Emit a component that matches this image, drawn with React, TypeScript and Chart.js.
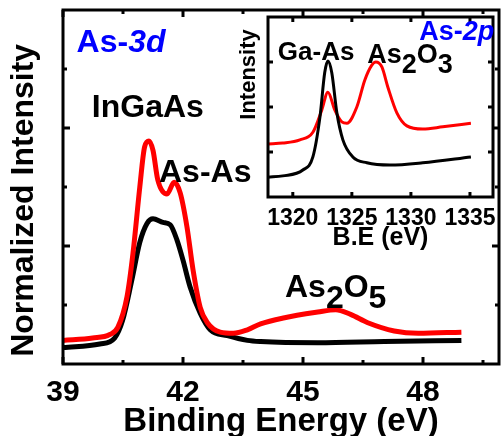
import { useEffect, useRef } from "react";
import { Chart, registerables } from "chart.js";
Chart.register(...registerables);

const FONT = '"Liberation Sans", Arial, sans-serif';

// ---- Main panel: As-3d ----
const mainRedEnergy = [39.0, 39.74, 40.17, 40.37, 40.6, 40.75, 40.92, 41.04, 41.15, 41.25, 41.37, 41.6, 41.78, 41.93, 42.1, 42.25, 42.43, 42.61, 42.93, 43.26, 43.61, 43.94, 44.51, 45.37, 45.82, 46.19, 46.62, 47.28, 47.88, 48.96];
const mainRed = [0.2, 0.22, 0.25, 0.31, 0.57, 0.94, 1.5, 1.84, 1.89, 1.81, 1.56, 1.44, 1.54, 1.45, 1.16, 0.8, 0.48, 0.35, 0.27, 0.26, 0.29, 0.34, 0.39, 0.44, 0.46, 0.42, 0.35, 0.28, 0.26, 0.27];
const mainBlackEnergy = [39.0, 39.92, 40.29, 40.49, 40.72, 40.92, 41.1, 41.25, 41.5, 41.68, 41.85, 42.0, 42.18, 42.43, 42.68, 43.11, 43.61, 43.94, 45.37, 47.03, 48.96];
const mainBlack = [0.14, 0.17, 0.22, 0.37, 0.71, 1.03, 1.19, 1.23, 1.2, 1.18, 1.05, 0.88, 0.65, 0.43, 0.29, 0.24, 0.2, 0.19, 0.18, 0.19, 0.2];
const mainXMajor = [39, 42, 45, 48];
const mainXMinor = [40.5, 43.5, 46.5, 49.5];
const mainYMajor = [1, 2];
const mainYMinor = [0.5, 1.5, 2.5];

// ---- Inset: As-2p ----
const insetRedEnergy = [1317.9, 1319.15, 1320.6, 1321.7, 1322.45, 1322.97, 1323.56, 1324.15, 1324.58, 1325.42, 1326.1, 1326.69, 1327.03, 1327.54, 1328.05, 1328.81, 1329.66, 1331.0, 1332.7, 1335.08];
const insetRed = [1.18, 1.2, 1.27, 1.44, 1.93, 2.33, 1.93, 1.67, 1.64, 2.0, 2.6, 2.93, 3.0, 2.89, 2.44, 1.87, 1.58, 1.51, 1.56, 1.64];
const insetBlackEnergy = [1317.9, 1319.15, 1320.85, 1321.7, 1322.3, 1322.7, 1322.97, 1323.3, 1323.73, 1324.24, 1325.08, 1326.27, 1328.22, 1331.0, 1335.08];
const insetBlack = [0.44, 0.47, 0.6, 0.89, 1.78, 2.76, 3.02, 2.76, 1.87, 1.27, 0.89, 0.76, 0.71, 0.76, 0.89];
const insetXMajor = [1320, 1325, 1330, 1335];
const insetYMajor = [1, 2, 3];

// annotation labels (anchored in data units: left edge, baseline)
const mainLabels = [
  { x: 39.34, y: 2.64, size: 32, color: "#0000ff", parts: [{ t: "As-" }, { t: "3d", italic: true }] },
  { x: 39.72, y: 2.09, size: 32, color: "#000", parts: [{ t: "InGaAs" }] },
  { x: 41.4, y: 1.54, size: 32, color: "#000", parts: [{ t: "As-As" }] },
  { x: 44.55, y: 0.57, size: 32, color: "#000", parts: [{ t: "As" }, { t: "2", sub: true }, { t: "O" }, { t: "5", sub: true }] },
];
const insetLabels = [
  { x: 1318.73, y: 3.04, size: 26, color: "#000", parts: [{ t: "Ga-As" }] },
  { x: 1326.3, y: 2.98, size: 27, color: "#000", parts: [{ t: "As" }, { t: "2", sub: true }, { t: "O" }, { t: "3", sub: true }] },
  { x: 1330.7, y: 3.49, size: 27, color: "#0000ff", parts: [{ t: "As-" }, { t: "2p", italic: true }] },
];

const toPts = (xs: number[], ys: number[]) => xs.map((x, i) => ({ x, y: ys[i] }));

const framePlugin = {
  id: "frameTicks",
  afterDraw(chart: any, _a: any, opts: any) {
    const { ctx, chartArea: a, scales } = chart;
    ctx.save();
    ctx.strokeStyle = "#000";
    ctx.lineWidth = opts.width;
    ctx.lineCap = "butt";
    const seg = (x1: number, y1: number, x2: number, y2: number) => {
      ctx.beginPath();
      ctx.moveTo(x1, y1);
      ctx.lineTo(x2, y2);
      ctx.stroke();
    };
    scales.x.ticks.forEach((t: any) => {
      const px = scales.x.getPixelForValue(t.value);
      const L = opts.xMajor.includes(t.value) ? opts.major : opts.minor;
      seg(px, a.bottom, px, a.bottom - L);
      seg(px, a.top, px, a.top + L);
    });
    scales.y.ticks.forEach((t: any) => {
      const py = scales.y.getPixelForValue(t.value);
      const L = opts.yMajor.includes(t.value) ? opts.major : opts.minor;
      seg(a.left, py, a.left + L, py);
      seg(a.right, py, a.right - L, py);
    });
    ctx.strokeRect(a.left, a.top, a.right - a.left, a.bottom - a.top);
    ctx.restore();
  },
};

const labelPlugin = {
  id: "richLabels",
  afterDraw(chart: any, _a: any, opts: any) {
    const { ctx, scales } = chart;
    ctx.save();
    ctx.textBaseline = "alphabetic";
    ctx.textAlign = "left";
    (opts.items || []).forEach((it: any) => {
      let x = scales.x.getPixelForValue(it.x);
      const y = scales.y.getPixelForValue(it.y);
      ctx.fillStyle = it.color;
      it.parts.forEach((p: any) => {
        ctx.font = `${p.italic ? "italic " : ""}bold ${it.size}px ${FONT}`;
        ctx.fillText(p.t, x, y + (p.sub ? it.size * 0.36 : 0));
        x += ctx.measureText(p.t).width;
      });
    });
    ctx.restore();
  },
};

function mainConfig(): any {
  return {
    type: "line",
    data: {
      datasets: [
        { data: toPts(mainRedEnergy, mainRed), borderColor: "#ff0000", borderWidth: 5, pointRadius: 0, cubicInterpolationMode: "monotone" },
        { data: toPts(mainBlackEnergy, mainBlack), borderColor: "#000000", borderWidth: 5, pointRadius: 0, cubicInterpolationMode: "monotone" },
      ],
    },
    plugins: [framePlugin, labelPlugin],
    options: {
      responsive: false,
      animation: false,
      events: [],
      layout: { padding: { top: 10, right: 3, left: 0, bottom: 0 } },
      plugins: {
        legend: { display: false },
        tooltip: { enabled: false },
        frameTicks: { width: 3, major: 7, minor: 4, xMajor: mainXMajor, yMajor: mainYMajor },
        richLabels: { items: mainLabels },
      },
      scales: {
        x: {
          type: "linear",
          min: 39,
          max: 49.9,
          afterBuildTicks: (s: any) => {
            s.ticks = [...mainXMajor, ...mainXMinor].sort((a, b) => a - b).map((v) => ({ value: v }));
          },
          afterFit: (s: any) => {
            s.height = 72;
          },
          grid: { display: false },
          border: { display: false },
          ticks: {
            autoSkip: false,
            maxRotation: 0,
            padding: 3,
            color: "#000",
            font: { family: FONT, size: 30, weight: "bold" },
            callback: (v: number) => (mainXMajor.includes(v) ? String(v) : ""),
          },
          title: {
            display: true,
            text: "Binding Energy (eV)",
            color: "#000",
            padding: 0,
            font: { family: FONT, size: 33, weight: "bold", lineHeight: 0.85 },
          },
        },
        y: {
          type: "linear",
          min: 0,
          max: 3,
          afterBuildTicks: (s: any) => {
            s.ticks = [...mainYMinor, ...mainYMajor].sort((a, b) => a - b).map((v) => ({ value: v }));
          },
          afterFit: (s: any) => {
            s.width = 63;
          },
          grid: { display: false },
          border: { display: false },
          ticks: { display: false },
          title: {
            display: true,
            text: "Normalized Intensity   ",
            color: "#000",
            padding: { top: 8, bottom: 0 },
            font: { family: FONT, size: 32, weight: "bold", lineHeight: 1 },
          },
        },
      },
    },
  };
}

function insetConfig(): any {
  return {
    type: "line",
    data: {
      datasets: [
        { data: toPts(insetBlackEnergy, insetBlack), borderColor: "#000000", borderWidth: 3, pointRadius: 0, cubicInterpolationMode: "monotone" },
        { data: toPts(insetRedEnergy, insetRed), borderColor: "#ff0000", borderWidth: 3, pointRadius: 0, cubicInterpolationMode: "monotone" },
      ],
    },
    plugins: [framePlugin, labelPlugin],
    options: {
      responsive: false,
      animation: false,
      events: [],
      layout: { padding: { top: 4, right: 3, left: 0, bottom: 0 } },
      plugins: {
        legend: { display: false },
        tooltip: { enabled: false },
        frameTicks: { width: 3, major: 5, minor: 3, xMajor: insetXMajor, yMajor: insetYMajor },
        richLabels: { items: insetLabels },
      },
      scales: {
        x: {
          type: "linear",
          min: 1317.9,
          max: 1336.95,
          afterBuildTicks: (s: any) => {
            s.ticks = insetXMajor.map((v) => ({ value: v }));
          },
          afterFit: (s: any) => {
            s.height = 56;
          },
          grid: { display: false },
          border: { display: false },
          ticks: {
            autoSkip: false,
            maxRotation: 0,
            padding: 0,
            color: "#000",
            font: { family: FONT, size: 23, weight: "bold" },
            callback: (v: number) => String(v),
          },
          title: {
            display: true,
            text: "B.E (eV)",
            color: "#000",
            padding: { top: 0, bottom: 2 },
            font: { family: FONT, size: 25, weight: "bold", lineHeight: 1 },
          },
        },
        y: {
          type: "linear",
          min: 0,
          max: 4,
          afterBuildTicks: (s: any) => {
            s.ticks = insetYMajor.map((v) => ({ value: v }));
          },
          afterFit: (s: any) => {
            s.width = 36;
          },
          grid: { display: false },
          border: { display: false },
          ticks: { display: false },
          title: {
            display: true,
            text: "Intensity  ",
            align: "end",
            color: "#000",
            padding: { top: 6, bottom: 0 },
            font: { family: FONT, size: 22, weight: "bold", lineHeight: 1 },
          },
        },
      },
    },
  };
}

export default function App() {
  const mainRef = useRef<HTMLCanvasElement>(null);
  const insetRef = useRef<HTMLCanvasElement>(null);
  useEffect(() => {
    const m = new Chart(mainRef.current as HTMLCanvasElement, mainConfig());
    const i = new Chart(insetRef.current as HTMLCanvasElement, insetConfig());
    return () => {
      m.destroy();
      i.destroy();
    };
  }, []);
  return (
    <div style={{ position: "fixed", left: 0, top: 0, width: 502, height: 436, background: "#fff" }}>
      <canvas ref={mainRef} width={502} height={436} style={{ position: "absolute", left: 0, top: 0 }} />
      <canvas ref={insetRef} width={264} height={240} style={{ position: "absolute", left: 232, top: 13 }} />
    </div>
  );
}
